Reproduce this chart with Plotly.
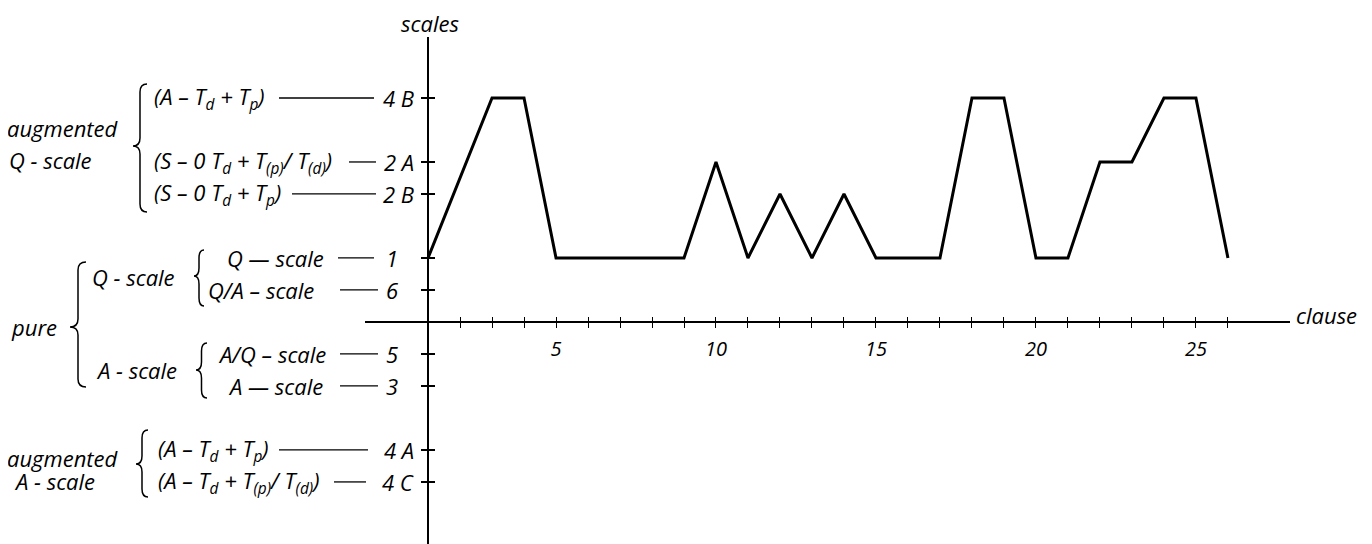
import plotly.graph_objects as go

# page has an 8px body margin, so the figure is drawn 8px in from the corner
PAGE_W, PAGE_H, OFF = 1372, 544, 8
W, H = PAGE_W - OFF, PAGE_H - OFF

# ---------------- data ----------------
# scale codes on the vertical axis and their rank positions on that axis
scale_codes = ["4 B", "2 A", "2 B", "1", "6", "5", "3", "4 A", "4 C"]
scale_pos = [7, 5, 4, 2, 1, -1, -2, -4, -5]

# scale description printed left of each code
scale_formulas = [
    "(A – T<sub>d</sub> + T<sub>p</sub>)",
    "(S – 0 T<sub>d</sub> + T<sub>(p)</sub>/ T<sub>(d)</sub>)",
    "(S – 0 T<sub>d</sub> + T<sub>p</sub>)",
    "Q — scale",
    "Q/A – scale",
    "A/Q – scale",
    "A — scale",
    "(A – T<sub>d</sub> + T<sub>p</sub>)",
    "(A – T<sub>d</sub> + T<sub>(p)</sub>/ T<sub>(d)</sub>)",
]

# clause number -> scale used
clauses = [1, 3, 4, 5, 6, 7, 8, 9, 10, 11, 12, 13, 14, 15, 16, 17, 18, 19,
           20, 21, 22, 23, 24, 25, 26]
scale_used = ["1", "4 B", "4 B", "1", "1", "1", "1", "1", "2 A", "1", "2 B",
              "1", "2 B", "1", "1", "1", "4 B", "4 B", "1", "1", "2 A", "2 A",
              "4 B", "4 B", "1"]

clause_ticks = list(range(1, 27))
clause_labels = [str(c) if c % 5 == 0 else "" for c in clause_ticks]

# group labels
group_texts = ["augmented", "Q - scale", "pure", "Q - scale", "A - scale",
               "augmented", "A - scale"]

# ---------------- layout helpers ----------------
FONT = "Open Sans"
FS = 22


def px(x):
    """page pixel x -> paper fraction"""
    return (x - OFF) / W


def py(y):
    """page pixel y (from top) -> paper fraction"""
    return 1 - (y - OFF) / H


pos_of = dict(zip(scale_codes, scale_pos))
y_vals = [pos_of[s] for s in scale_used]

# axis geometry (page pixels)
X_AX_LEFT, X_AX_RIGHT, X_AX_Y = 365, 1290, 322
Y_AX_X, Y_AX_TOP = 428, 37
x_range = [-0.97, 27.94]
y_range = [-6.94, 8.906]

fig = go.Figure()
fig.add_trace(go.Scatter(x=clauses, y=y_vals, mode="lines",
                         line=dict(color="black", width=3),
                         hoverinfo="skip", showlegend=False))
# helper trace for the overlaid axes (other half of the crossing ticks)
fig.add_trace(go.Scatter(x=[None], y=[None], xaxis="x2", yaxis="y2",
                         mode="lines", showlegend=False, hoverinfo="skip"))

tickfont = dict(family=FONT, size=20, color="black", style="italic")
fig.update_layout(
    width=W, height=H,
    margin=dict(l=0, r=0, t=0, b=0),
    paper_bgcolor="white", plot_bgcolor="rgba(0,0,0,0)",
    showlegend=False,
    xaxis=dict(domain=[px(X_AX_LEFT), px(X_AX_RIGHT)], range=x_range,
               anchor="free", position=py(X_AX_Y), showgrid=False,
               zeroline=False, showline=True, linecolor="black",
               linewidth=1.5, ticks="outside", ticklen=5, tickwidth=1.3,
               tickcolor="black", tickmode="array", tickvals=clause_ticks,
               ticktext=clause_labels, tickfont=tickfont,
               ticklabelstandoff=4),
    xaxis2=dict(overlaying="x", range=x_range, anchor="free",
                position=py(X_AX_Y), showgrid=False, zeroline=False,
                showline=False, ticks="inside", ticklen=5, tickwidth=1.3,
                tickcolor="black", tickmode="array", tickvals=clause_ticks,
                showticklabels=False),
    yaxis=dict(domain=[0, py(Y_AX_TOP)], range=y_range, anchor="free",
               position=px(Y_AX_X), showgrid=False, zeroline=False,
               showline=True, linecolor="black", linewidth=2,
               ticks="outside", ticklen=6, tickwidth=1.8, tickcolor="black",
               tickmode="array", tickvals=scale_pos, showticklabels=False),
    yaxis2=dict(overlaying="y", range=y_range, anchor="free",
                position=px(Y_AX_X), side="left", showgrid=False,
                zeroline=False, showline=False, ticks="inside", ticklen=6,
                tickwidth=1.8, tickcolor="black", tickmode="array",
                tickvals=scale_pos, showticklabels=False),
)

txtfont = dict(family=FONT, size=FS, color="black", style="italic")

# axis titles
fig.add_annotation(text="scales", xref="paper", yref="paper", x=px(Y_AX_X + 2),
                   y=py(23), xanchor="center", yanchor="middle",
                   showarrow=False, font=txtfont, borderpad=0)
fig.add_annotation(text="clause", xref="paper", yref="paper", x=px(1294),
                   y=py(315), xanchor="left", yanchor="middle",
                   showarrow=False, font=txtfont)

# scale rows: formula, rule and code (page pixels)
formula_left = [152, 152, 152, 225, 206, 216, 226, 156, 156]
rule_start = [279, 349, 292, 338, 340, 340, 340, 279, 334]
rule_end = [374, 376, 376, 374, 378, 378, 378, 368, 366]
code_right = [416, 416, 416, 400, 400, 400, 400, 416, 416]

for f, code, yv, fl, rs, re_, cr in zip(scale_formulas, scale_codes,
                                         scale_pos, formula_left, rule_start,
                                         rule_end, code_right):
    fig.add_annotation(text=f, xref="paper", yref="y", x=px(fl), y=yv,
                       xanchor="left", yanchor="middle", showarrow=False,
                       font=txtfont)
    fig.add_annotation(text=code, xref="paper", yref="y", x=px(cr), y=yv,
                       xanchor="right", yanchor="middle", showarrow=False,
                       font=txtfont)
    fig.add_shape(type="line", xref="paper", yref="y", x0=px(rs), x1=px(re_),
                  y0=yv, y1=yv, line=dict(color="black", width=1.3))

# group labels (left x, centre y in page pixels)
group_left = [6, 8, 10, 91, 95, 6, 13]
group_y = [128, 160, 327, 277, 370, 458, 481]
for t, gx, gy in zip(group_texts, group_left, group_y):
    fig.add_annotation(text=t, xref="paper", yref="paper", x=px(gx), y=py(gy),
                       xanchor="left", yanchor="middle", showarrow=False,
                       font=txtfont, borderpad=0)


# curly braces (tip x, end x, top y, bottom y, tip y) in page pixels
def brace_path(xt, xe, yt, yb, ym, r=8):
    xs = (xt + xe) / 2
    pts = [
        ("M", [(xe, yt)]),
        ("Q", [(xs, yt), (xs, yt + r)]),
        ("L", [(xs, ym - r)]),
        ("Q", [(xs, ym), (xt, ym)]),
        ("Q", [(xs, ym), (xs, ym + r)]),
        ("L", [(xs, yb - r)]),
        ("Q", [(xs, yb), (xe, yb)]),
    ]
    out = []
    for cmd, p in pts:
        out.append(cmd + " " + " ".join(f"{px(a):.5f},{py(b):.5f}" for a, b in p))
    return " ".join(out)


braces = [
    (133, 147, 84, 212, 146),
    (70, 86, 262, 387, 327),
    (194, 204, 250, 306, 276),
    (196, 207, 343, 398, 370),
    (136, 148, 430, 497, 464),
]
for b in braces:
    fig.add_shape(type="path", xref="paper", yref="paper", path=brace_path(*b),
                  line=dict(color="black", width=1.5))

fig.write_html("out.html")
